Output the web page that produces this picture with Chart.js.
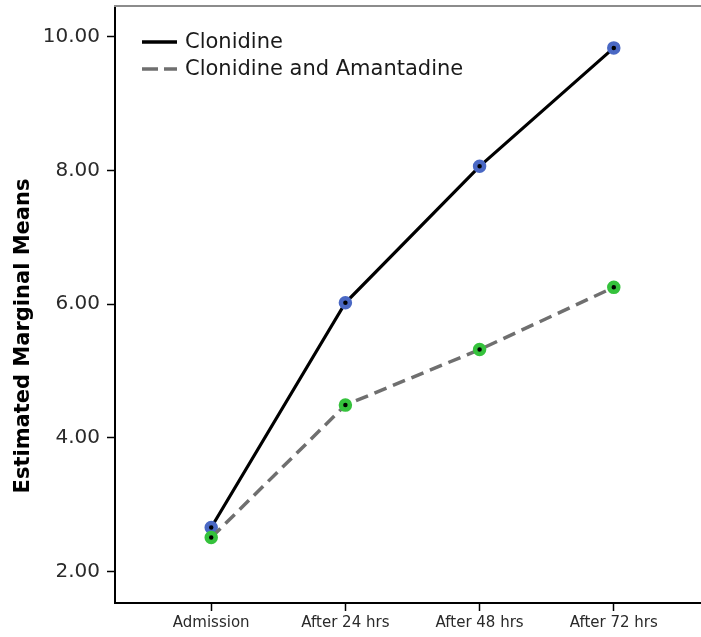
<!DOCTYPE html>
<html>
<head>
<meta charset="utf-8">
<script src="https://cdn.jsdelivr.net/npm/chart.js@4"></script>
<style>
  body { margin: 0; background: #fff; }
  canvas { display: block; }
</style>
</head>
<body>
<canvas id="meansChart" width="701" height="637"></canvas>
<script>
const categories = ['Admission', 'After 24 hrs', 'After 48 hrs', 'After 72 hrs']
const clonidine = [2.66, 6.02, 8.06, 9.83]
const clonidineAmantadine = [2.51, 4.49, 5.32, 6.25]
const yTicks = [2, 4, 6, 8, 10]
const seriesNames = ['Clonidine', 'Clonidine and Amantadine']
const yTitle = 'Estimated Marginal Means'

const FONT = "'DejaVu Sans', sans-serif"

function toPoints(values) {
  return values.map((v, i) => ({x: i, y: v}))
}

// legend, y title and the grey top frame line
const overlay = {
  id: 'overlay',
  afterDraw(chart) {
    const ctx = chart.ctx
    const area = chart.chartArea
    ctx.save()

    ctx.strokeStyle = '#8c8c8c'
    ctx.lineWidth = 2
    ctx.beginPath()
    ctx.moveTo(area.left - 1, area.top)
    ctx.lineTo(chart.width, area.top)
    ctx.stroke()

    const rows = [42, 69]
    chart.data.datasets.forEach((ds, i) => {
      const y = rows[i]
      ctx.strokeStyle = ds.borderColor
      ctx.lineWidth = 3.5
      ctx.setLineDash(i === 0 ? [] : [16, 6])
      ctx.beginPath()
      ctx.moveTo(142, y)
      ctx.lineTo(177, y)
      ctx.stroke()
      ctx.setLineDash([])
      ctx.fillStyle = '#1a1a1a'
      ctx.font = '21px ' + FONT
      ctx.textAlign = 'left'
      ctx.textBaseline = 'middle'
      ctx.fillText(seriesNames[i], 185, y + 1)
    })

    ctx.translate(29, 336)
    ctx.rotate(-Math.PI / 2)
    ctx.font = 'bold 21px ' + FONT
    ctx.fillStyle = '#000'
    ctx.textAlign = 'center'
    ctx.textBaseline = 'alphabetic'
    ctx.fillText(yTitle, 0, 0)
    ctx.restore()
  }
}

const ctx = document.getElementById('meansChart').getContext('2d')
const meansChart = new Chart(ctx, {
  type: 'line',
  data: {
    datasets: [{
      label: seriesNames[0],
      data: toPoints(clonidine),
      borderColor: '#000000',
      borderWidth: 3.2,
      pointRadius: 4.5,
      pointBorderWidth: 4.5,
      pointBackgroundColor: '#000000',
      pointBorderColor: '#4a68c4',
      order: 1
    }, {
      label: seriesNames[1],
      data: toPoints(clonidineAmantadine),
      borderColor: '#6f6f6f',
      borderWidth: 3.5,
      borderDash: [13, 7],
      pointRadius: 4.5,
      pointBorderWidth: 4.5,
      pointBackgroundColor: '#000000',
      pointBorderColor: '#35c23c',
      order: 0
    }]
  },
  options: {
    responsive: false,
    animation: false,
    layout: {autoPadding: false, padding: {top: 6, right: 0, bottom: 0, left: 0}},
    plugins: {
      legend: {display: false},
      tooltip: {enabled: false}
    },
    scales: {
      x: {
        type: 'linear',
        min: -0.717,
        max: 3.65,
        afterBuildTicks: s => { s.ticks = categories.map((c, i) => ({value: i})) },
        afterFit: s => {
          s.height = 34
          s.paddingLeft = 0
          s.paddingRight = 0
        },
        grid: {drawOnChartArea: false, drawTicks: true, tickLength: 8, tickColor: '#000', tickWidth: 1.5},
        border: {display: true, color: '#000', width: 2},
        ticks: {
          callback: v => categories[v],
          font: {family: FONT, size: 15},
          color: '#2a2a2a',
          padding: 3,
          maxRotation: 0,
          autoSkip: false
        }
      },
      y: {
        type: 'linear',
        min: 1.532,
        max: 10.456,
        afterBuildTicks: s => { s.ticks = yTicks.map(v => ({value: v})) },
        afterFit: s => {
          s.width = 115
          s.paddingTop = 0
          s.paddingBottom = 0
        },
        grid: {drawOnChartArea: false, drawTicks: true, tickLength: 8, tickColor: '#000', tickWidth: 1.5},
        border: {display: true, color: '#000', width: 2},
        ticks: {
          callback: v => v.toFixed(2),
          font: {family: FONT, size: 20},
          color: '#2a2a2a',
          padding: 7
        }
      }
    }
  },
  plugins: [overlay]
})
</script>
</body>
</html>
